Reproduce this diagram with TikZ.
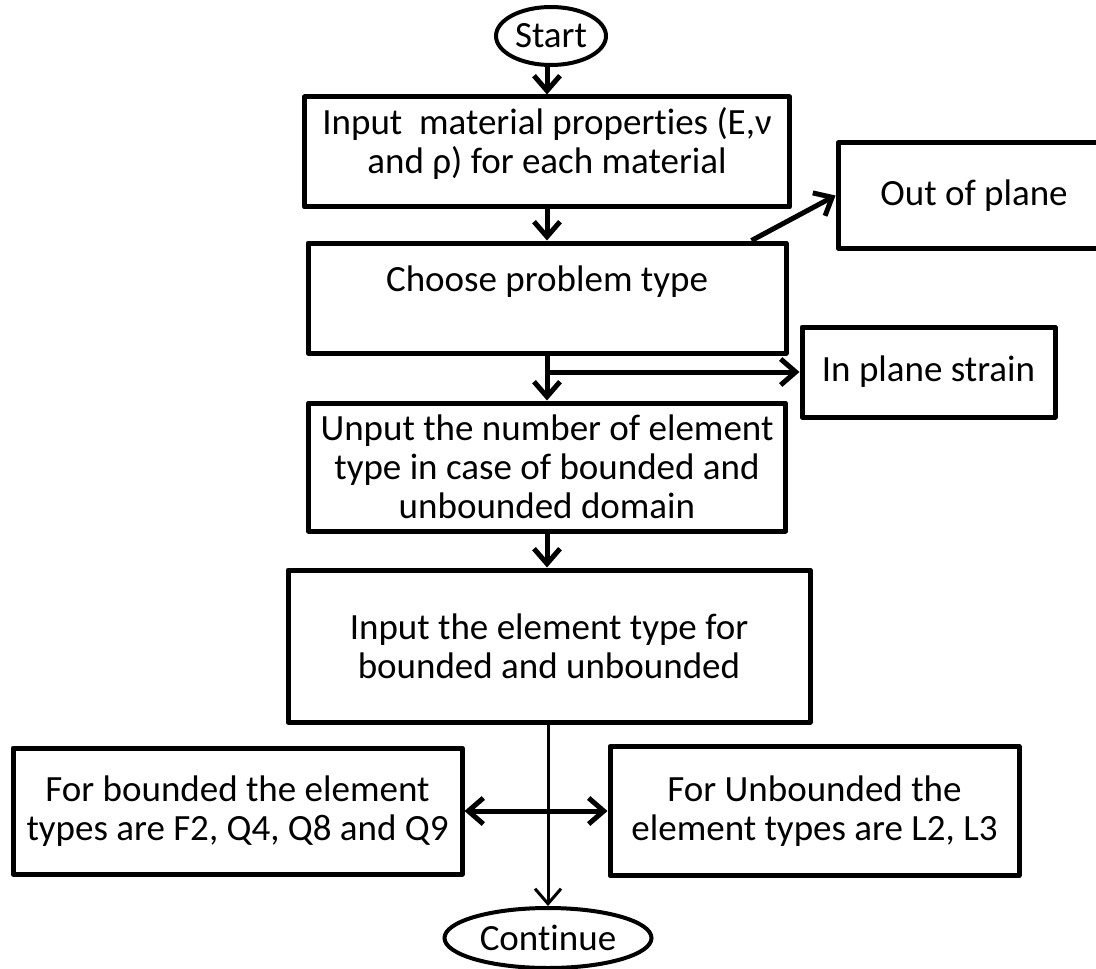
\documentclass[tikz,border=0pt]{standalone}
\usepackage{fontspec}
\setmainfont{Carlito}[RawFeature={-liga;-clig;-calt;-dlig}]
\usetikzlibrary{arrows.meta,shapes.geometric,calc}
\newcommand\flowfont{\fontsize{18.5}{19.5}\selectfont}

\begin{document}
\begin{tikzpicture}[x=0.5pt,y=-0.5pt,
  box/.style={draw, rectangle, line width=2.5pt, line join=round, inner sep=0pt,
    align=center, font=\flowfont},
  term/.style={draw, ellipse, line width=2pt, inner sep=0pt, font=\flowfont},
  flow/.style={line width=2.5pt, -{Straight Barb[length=7.5pt,width=13pt]}},
  thinflow/.style={line width=1.5pt, -{Straight Barb[length=7.5pt,width=13pt]}},
  both/.style={line width=2.5pt, {Straight Barb[length=7.5pt,width=13pt]}-{Straight Barb[length=7.5pt,width=13pt]}}
]
\useasboundingbox (0,0) rectangle (1096,968);
\clip (0,0) rectangle (1096,968);

% terminals
\node[term, minimum width=55pt, minimum height=29pt] (start) at (551,36) {Start};
\node[term, minimum width=103.5pt, minimum height=30pt] (cont) at (548,938) {Continue};

% main column
\node[box, minimum width=242.5pt, minimum height=55pt] (mat) at (547,152)
  {Input\ \ material properties (E,ν\\and ρ) for each material\\[-8pt]\mbox{}};
\node[box, minimum width=239pt, minimum height=55pt] (prob) at (547,298)
  {Choose problem type\\\mbox{}};
\node[box, minimum width=238.5pt, minimum height=64pt] (elnum) at (547,467)
  {Unput the number of element\\type in case of bounded and\\unbounded domain};
\node[box, minimum width=261pt, minimum height=76pt] (eltype) at (549,646)
  {Input the element type for\\bounded and unbounded};

% side boxes
\node[box, minimum width=136pt, minimum height=52.5pt] (oop) at (974,195.5) {Out of plane};
\node[box, minimum width=126.5pt, minimum height=45pt] (ips) at (928.5,372) {In plane strain};
\node[box, minimum width=224.5pt, minimum height=63pt] (bnd) at (237.5,811)
  {For bounded the element\\types are F2, Q4, Q8 and Q9};
\node[box, minimum width=204.5pt, minimum height=64.5pt] (unb) at (814.5,811)
  {For Unbounded the\\element types are L2, L3};

% connectors
\draw[flow] (start.south -| mat.north) -- (mat.north);
\draw[flow] (mat.south) -- (prob.north);
\draw[flow] ($(prob.north east)+(-37,0)$) -- (oop.west);
\draw[flow] (prob.south) -- (elnum.north);
\coordinate (br) at (547,372);
\draw[flow] (br) -- (ips.west);
\draw[flow] (elnum.south) -- (elnum.south |- eltype.north);
\draw[thinflow] (eltype.south -| cont.north) -- (cont.north);
\draw[both] (bnd.east) -- (unb.west);
\end{tikzpicture}
\end{document}
